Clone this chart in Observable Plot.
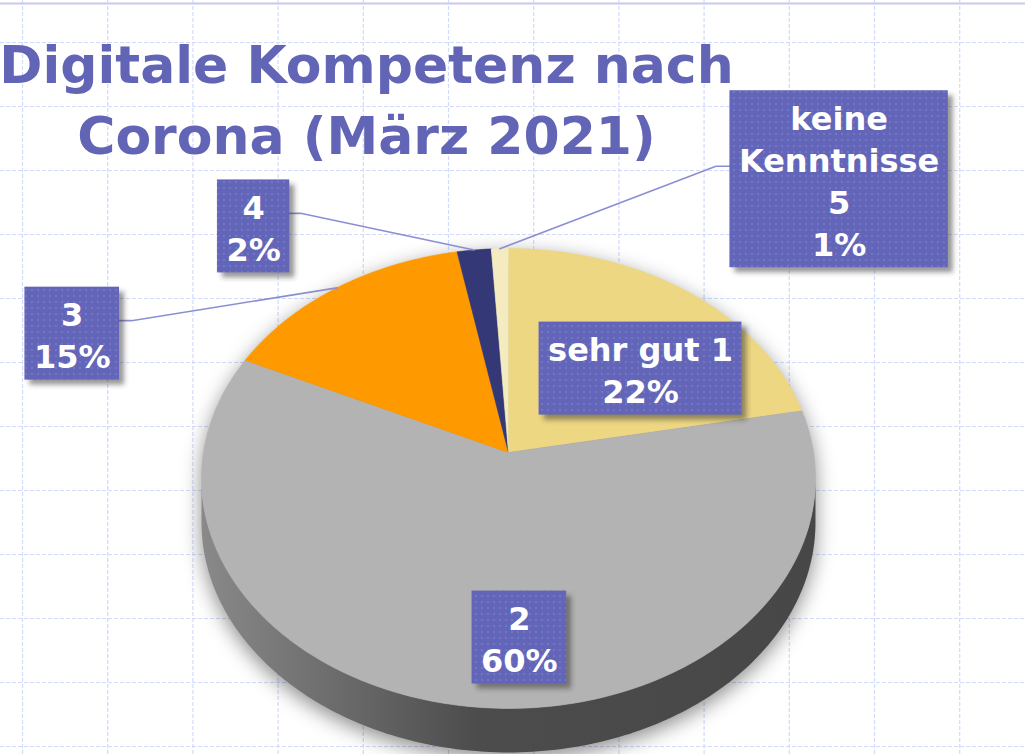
<!DOCTYPE html>
<html><head><meta charset="utf-8">
<script src="https://cdn.jsdelivr.net/npm/d3@7"></script>
<script src="https://cdn.jsdelivr.net/npm/@observablehq/plot@0.6"></script>
<style>html,body{margin:0;padding:0;background:#fff;overflow:hidden}</style>
</head><body><div id="chart"></div>
<script>
// ---- data ----
const title = ["Digitale Kompetenz nach", "Corona (März 2021)"];
const categories = ["sehr gut 1", "2", "3", "4", "keine Kenntnisse 5"];
const values = [22, 60, 15, 2, 1];
const colors = ["#EDD782", "#B3B3B3", "#FF9900", "#343877", "#F4EBC0"];
// label layout (polar, relative to the pie: degrees clockwise from 12 o'clock, radius in pie radii)
const labelAngle = [49.5, 177.5, 290.1, 320, 42];
const labelRadius = [0.594, 0.747, 1.619, 1.465, 1.875];

// ---- layout ----
const W = 1025, H = 754;
const pie = {cx: 508, cy: 452, rx: 305, ry: 227, k: -0.113, depth: 44};
const font = "DejaVu Sans";
const labelSize = 32, labelLine = 42, padX = 9, padY = 9;
const titleSize = 52, titleLine = 71, titleX = 366, titleBase = 82;
const purple = "#6366B8";

function project(angleDeg, r, drop = 0) {
  const a = angleDeg * Math.PI / 180;
  const u = r * Math.sin(a), v = -r * Math.cos(a);
  const s = 1 + pie.k * v;
  return {x: pie.cx + pie.rx * u / s, y: pie.cy + pie.ry * v / s + drop};
}

const arcs = d3.pie().sort(null).value(d => d)(values);
const slices = arcs.map((a, i) => ({i, a0: a.startAngle * 180 / Math.PI, a1: a.endAngle * 180 / Math.PI}));

// top faces
const topPts = [];
slices.forEach(s => {
  topPts.push({key: s.i, color: colors[s.i], ...project(0, 0)});
  const n = Math.max(2, Math.ceil(s.a1 - s.a0));
  for (let j = 0; j <= n; j++) topPts.push({key: s.i, color: colors[s.i], ...project(s.a0 + (s.a1 - s.a0) * j / n, 1)});
});

// side faces (visible front part)
const sideA = Math.acos(pie.k) * 180 / Math.PI, sideB = 360 - sideA;
const sidePts = [];
slices.forEach(s => {
  const b0 = Math.max(s.a0, sideA), b1 = Math.min(s.a1, sideB);
  if (b1 <= b0) return;
  const n = Math.max(2, Math.ceil(b1 - b0));
  for (let j = 0; j <= n; j++) sidePts.push({key: s.i, fill: `url(#side${s.i})`, ...project(b0 + (b1 - b0) * j / n, 1)});
  for (let j = n; j >= 0; j--) sidePts.push({key: s.i, fill: `url(#side${s.i})`, ...project(b0 + (b1 - b0) * j / n, 1, pie.depth)});
});

// silhouette for soft shadow
const shadowPts = [];
for (let a = sideB; a <= 360 + sideA; a += 2) shadowPts.push(project(a, 1));
for (let a = sideA; a <= sideB; a += 2) shadowPts.push(project(a, 1, pie.depth));

// labels
const ctx = document.createElement("canvas").getContext("2d");
ctx.font = `bold ${labelSize}px "${font}"`;
const total = d3.sum(values);
function wrap(t) { return t.length > 12 ? t.split(" ") : [t]; }
const labels = slices.map(s => {
  const p = project(labelAngle[s.i], labelRadius[s.i]);
  const lines = wrap(categories[s.i]).concat([Math.round(values[s.i] / total * 100) + "%"]);
  const w = d3.max(lines, t => ctx.measureText(t).width) + 2 * padX;
  const h = lines.length * labelLine + padY;
  return {i: s.i, text: lines.join("\n"), cx: p.x, cy: p.y, x1: p.x - w / 2, x2: p.x + w / 2, y1: p.y - h / 2, y2: p.y + h / 2,
          mid: (s.a0 + s.a1) / 2, outside: labelRadius[s.i] > 1};
});
const leaderPts = [];
labels.filter(l => l.outside).forEach(l => {
  const e = project(l.mid, 1);
  const ay = l.cy - 13;
  const ex = l.cx < e.x ? l.x2 + 12 : l.x1 - 14;
  leaderPts.push({key: l.i, x: l.cx, y: ay}, {key: l.i, x: ex, y: ay}, {key: l.i, x: e.x, y: e.y});
});

const gridXs = d3.range(22, W, 85.2);
const gridYs = d3.range(42, H, 64);

const chart = Plot.plot({
  width: W, height: H, margin: 0,
  style: {background: "#fff"},
  x: {domain: [0, W], range: [0, W], axis: null},
  y: {domain: [0, H], range: [0, H], axis: null},
  color: {type: "identity"},
  marks: [
    Plot.ruleX(gridXs, {stroke: "#D0DBFB", strokeDasharray: "4 2", strokeWidth: 1.2}),
    Plot.ruleY(gridYs, {stroke: "#D0DBFB", strokeDasharray: "4 2", strokeWidth: 1.2}),
    Plot.ruleY([3], {stroke: "#C8C9EC", strokeWidth: 2}),
    Plot.line(shadowPts, {x: "x", y: "y", fill: "#000", fillOpacity: 0.45, dy: 6, ariaDescription: "pie-shadow"}),
    Plot.line(sidePts, {x: "x", y: "y", z: "key", fill: "fill"}),
    Plot.line(topPts, {x: "x", y: "y", z: "key", fill: "color", stroke: "color", strokeWidth: 0.6}),
    Plot.line(leaderPts, {x: "x", y: "y", z: "key", stroke: "#8B8FD2", strokeWidth: 1.6}),
    Plot.rect(labels, {x1: "x1", x2: "x2", y1: "y1", y2: "y2", dx: 5, dy: 5, fill: "#333", fillOpacity: 0.5, ariaDescription: "box-shadow"}),
    Plot.rect(labels, {x1: "x1", x2: "x2", y1: "y1", y2: "y2", fill: "url(#dots)"}),
    Plot.text(labels, {x: "cx", y: "cy", text: "text", fill: "#fff", fontSize: labelSize, fontWeight: "bold",
      fontFamily: font, lineHeight: labelLine / labelSize, lineAnchor: "middle", textAnchor: "middle"}),
    Plot.text(title, {x: () => titleX, y: (d, i) => titleBase + i * titleLine - 0.32 * titleSize, text: d => d,
      fill: "#6265B5", fontSize: titleSize, fontWeight: "bold", fontFamily: font, textAnchor: "middle", lineAnchor: "middle"})
  ]
});

// defs: patterns, gradients, filters
const svg = chart.tagName.toLowerCase() === "svg" ? chart : chart.querySelector("svg");
const ns = "http://www.w3.org/2000/svg";
const defs = document.createElementNS(ns, "defs");
let grads = "";
slices.forEach(s => {
  const c = d3.color(colors[s.i]);
  grads += `<linearGradient id="side${s.i}" gradientUnits="userSpaceOnUse" x1="${pie.cx - pie.rx}" y1="0" x2="${pie.cx + pie.rx}" y2="0">
    <stop offset="0" stop-color="${c.darker(0.75)}"/><stop offset="0.45" stop-color="${c.darker(2.4)}"/><stop offset="1" stop-color="${c.darker(2.6)}"/></linearGradient>`;
});
defs.innerHTML = `
  <pattern id="dots" width="6" height="6" patternUnits="userSpaceOnUse">
    <rect width="6" height="6" fill="${purple}"/><rect x="1" y="1" width="2" height="2" fill="#7376C2"/>
  </pattern>
  ${grads}
  <filter id="blurS" x="-20%" y="-20%" width="140%" height="140%"><feGaussianBlur stdDeviation="2.5"/></filter>
  <filter id="blurL" x="-20%" y="-20%" width="140%" height="140%"><feGaussianBlur stdDeviation="10"/></filter>`;
svg.insertBefore(defs, svg.firstChild);
const bs = svg.querySelector('[aria-description="box-shadow"]'); if (bs) bs.setAttribute("filter", "url(#blurS)");
const ps = svg.querySelector('[aria-description="pie-shadow"]'); if (ps) ps.setAttribute("filter", "url(#blurL)");
document.getElementById("chart").appendChild(chart);
</script></body></html>
